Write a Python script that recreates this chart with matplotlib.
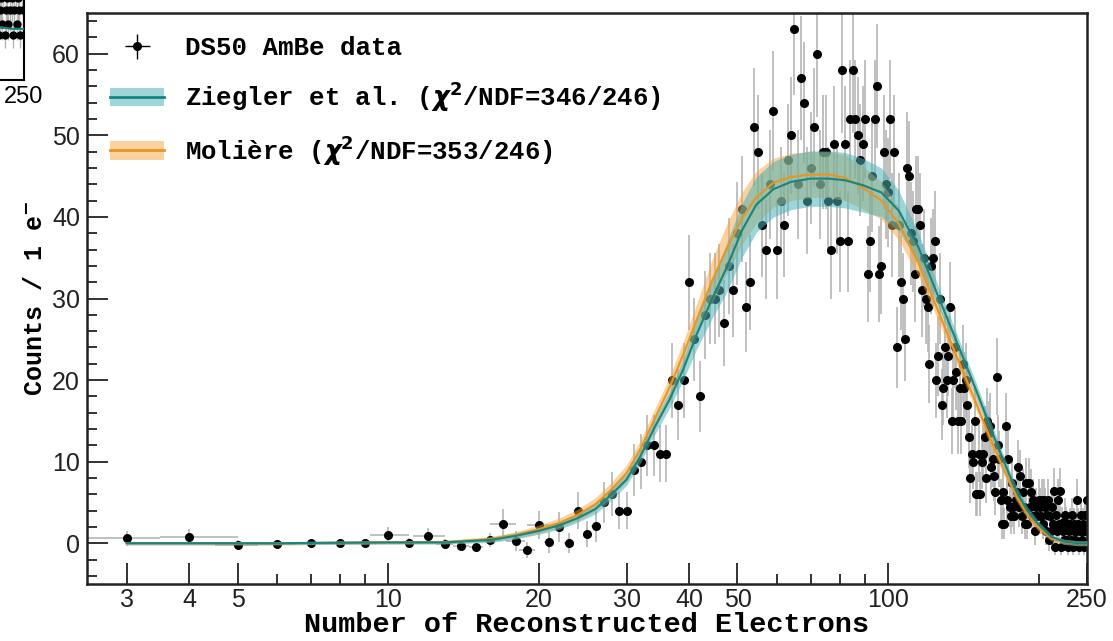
import numpy as np
import matplotlib.pyplot as plt
from matplotlib.lines import Line2D
from matplotlib.patches import Patch
from matplotlib.ticker import FixedLocator, NullFormatter, MultipleLocator

# DS50 AmBe data: one bin per reconstructed electron, 3 .. 250
n_electrons = np.arange(3, 251)
counts = [
    0.6, 0.8, -0.2, -0.1, 0.0, 0.0, 0.0, 1.0, 0.0, 0.9,
    -0.1, -0.4, -0.5, 0.4, 2.4, 0.3, -0.8, 2.2, 0.1, 2.0,
    0.0, 4.0, 1.1, 2.1, 5.0, 6.0, 4.0, 4.0, 9.0, 10.0,
    12.0, 12.0, 11.0, 11.0, 20.0, 17.0, 20.0, 32.0, 25.0, 18.0,
    28.0, 30.0, 30.0, 31.0, 27.0, 34.0, 31.0, 38.0, 41.0, 29.0,
    32.0, 51.0, 48.0, 39.0, 36.0, 44.0, 53.0, 36.0, 42.0, 39.0,
    47.0, 50.0, 63.0, 44.0, 57.0, 54.0, 42.0, 46.0, 51.0, 60.0,
    44.0, 48.0, 48.0, 42.0, 36.0, 49.0, 42.0, 37.0, 58.0, 49.0,
    37.0, 52.0, 58.0, 52.0, 50.0, 47.0, 49.0, 52.0, 33.0, 37.0,
    45.0, 52.0, 56.0, 33.0, 34.0, 48.0, 44.0, 43.0, 52.0, 39.0,
    48.0, 24.0, 39.0, 32.0, 30.0, 25.0, 46.0, 45.0, 38.0, 37.0,
    33.0, 41.0, 41.0, 39.0, 31.0, 35.0, 30.0, 29.0, 22.0, 34.0,
    35.0, 37.0, 20.0, 23.0, 30.0, 17.0, 19.0, 24.0, 20.0, 23.0,
    29.0, 15.0, 20.0, 24.0, 21.0, 15.0, 19.0, 15.0, 22.0, 19.0,
    20.0, 17.0, 13.0, 8.0, 11.0, 10.0, 15.0, 6.0, 6.0, 11.0,
    6.0, 10.0, 11.0, 13.0, 8.0, 15.0, 13.5, 14.4, 9.4, 10.3,
    8.3, 6.3, 20.4, 12.0, 10.3, 5.3, 2.4, 6.3, 2.4, 14.4,
    5.3, 10.3, 4.4, 3.3, 7.4, 4.4, 3.3, 5.3, 6.3, 9.4,
    4.4, 8.3, 3.3, 6.3, 4.4, 2.4, 7.4, 2.4, 7.4, 4.4,
    6.3, 3.3, 5.3, 3.3, 1.5, 4.4, 3.3, 5.3, 4.4, 3.3,
    5.3, 2.4, 5.3, 4.4, 1.5, 3.4, 5.3, 0.4, 3.3, 1.5,
    4.4, 2.4, 6.4, -0.5, 3.4, 1.5, 5.3, 2.4, 6.4, -0.5,
    2.5, 1.5, 0.4, 3.4, 2.5, 0.4, -0.5, 1.5, 2.4, 0.4,
    3.4, -0.5, 1.5, 2.4, 0.4, 1.5, 5.3, 2.4, -0.5, 1.5,
    3.4, 0.4, 2.4, 1.5, -0.5, 3.4, 1.5, 5.3,
]
counts_err = [
    0.9, 0.9, 0.6, 0.5, 0.5, 0.5, 0.5, 1.0, 0.6, 1.0,
    0.6, 0.5, 0.5, 0.9, 1.8, 1.2, 1.0, 1.7, 1.3, 1.8,
    1.2, 2.3, 1.6, 1.9, 2.5, 2.7, 2.3, 2.3, 3.2, 3.4,
    3.7, 3.7, 3.5, 3.5, 4.6, 4.3, 4.6, 5.8, 5.1, 4.4,
    5.4, 5.6, 5.6, 5.7, 5.3, 5.9, 5.7, 6.3, 6.5, 5.5,
    5.8, 7.2, 7.0, 6.4, 6.1, 6.7, 7.4, 6.1, 6.6, 6.4,
    6.9, 7.2, 8.0, 6.7, 7.6, 7.4, 6.6, 6.9, 7.2, 7.8,
    6.7, 7.0, 7.0, 6.6, 6.1, 7.1, 6.6, 6.2, 7.7, 7.1,
    6.2, 7.3, 7.7, 7.3, 7.2, 6.9, 7.1, 7.3, 5.9, 6.2,
    6.8, 7.3, 7.6, 5.9, 5.9, 7.0, 6.7, 6.7, 7.3, 6.4,
    7.0, 5.0, 6.4, 5.8, 5.6, 5.1, 6.9, 6.8, 6.3, 6.2,
    5.9, 6.5, 6.5, 6.4, 5.7, 6.0, 5.6, 5.5, 4.8, 5.9,
    6.0, 6.2, 4.6, 4.9, 5.6, 4.3, 4.5, 5.0, 4.6, 4.9,
    5.5, 4.0, 4.6, 5.0, 4.7, 4.0, 4.5, 4.0, 4.8, 4.5,
    4.6, 4.3, 3.8, 3.1, 3.5, 3.4, 4.0, 2.7, 2.7, 3.5,
    2.7, 3.4, 3.5, 3.8, 3.1, 4.0, 3.9, 4.0, 3.3, 3.4,
    3.1, 2.8, 4.7, 3.7, 3.4, 2.6, 1.9, 2.8, 1.9, 4.0,
    2.6, 3.4, 2.4, 2.2, 3.0, 2.4, 2.2, 2.6, 2.8, 3.3,
    2.4, 3.1, 2.2, 2.8, 2.4, 1.9, 3.0, 1.9, 3.0, 2.4,
    2.8, 2.2, 2.6, 2.2, 1.7, 2.4, 2.2, 2.6, 2.4, 2.2,
    2.6, 1.9, 2.6, 2.4, 1.7, 2.2, 2.6, 1.3, 2.2, 1.7,
    2.4, 1.9, 2.8, 1.0, 2.2, 1.7, 2.6, 1.9, 2.8, 1.0,
    2.0, 1.7, 1.3, 2.2, 2.0, 1.3, 1.0, 1.7, 1.9, 1.3,
    2.2, 1.0, 1.7, 1.9, 1.3, 1.7, 2.6, 1.9, 1.0, 1.7,
    2.2, 1.3, 1.9, 1.7, 1.0, 2.2, 1.7, 2.6,
]
# horizontal bin half-widths (wider at low N), then 0.5 per bin
xerr_low = [0.5, 0.5, 0.5, 0.5, 0.5, 0.5, 0.5, 0.8, 0.5, 0.8,
            0.5, 0.5, 0.5, 0.8, 1.0, 0.8, 0.7, 1.0] + [0.5] * 230
xerr_high = [0.5, 1.0, 0.5, 0.5, 0.5, 0.5, 0.5, 1.0, 0.5, 1.0,
             0.5, 0.5, 0.5, 0.8, 1.0, 0.8, 0.7, 1.0] + [0.5] * 230

# model predictions (central value and band half-width)
model_x = [3, 6, 10, 13, 16, 18, 20, 22, 24, 26, 28, 30, 32, 34, 36.5, 39,
           41.5, 44.5, 47.5, 51, 54.5, 59, 64, 70, 76, 82, 89, 97, 105, 115,
           125, 137, 150, 160, 170, 180, 190, 200, 212, 225, 240, 250]
ziegler = [0.0, 0.0, 0.1, 0.1, 0.4, 0.9, 1.5, 2.2, 3.1, 4.2, 6.0, 7.8, 10.7,
           14.0, 17.5, 21.4, 25.7, 30.0, 33.7, 38.3, 41.5, 43.4, 44.3, 44.7,
           44.7, 44.5, 43.9, 43.0, 40.8, 36.3, 30.8, 24.8, 18.8, 14.3, 10.2,
           6.6, 4.0, 2.3, 0.8, 0.2, 0.0, 0.0]
ziegler_unc = [0.2, 0.2, 0.2, 0.2, 0.3, 0.4, 0.4, 0.5, 0.5, 0.6, 0.7, 0.7,
               0.8, 0.9, 1.0, 1.3, 1.8, 2.4, 3.0, 3.3, 3.4, 3.4, 3.4, 3.4,
               3.4, 3.4, 3.3, 3.0, 2.5, 1.8, 1.3, 1.0, 0.9, 0.8, 0.7, 0.6,
               0.5, 0.4, 0.3, 0.3, 0.3, 0.3]
moliere = [0.0, 0.0, 0.1, 0.15, 0.5, 1.0, 1.7, 2.5, 3.5, 4.8, 6.6, 8.6, 11.6,
           15.0, 19.0, 23.2, 27.5, 32.2, 36.0, 39.8, 42.4, 44.2, 44.9, 45.2,
           45.2, 44.8, 43.6, 42.0, 39.2, 34.4, 29.0, 23.0, 17.2, 12.9, 9.2,
           5.9, 3.5, 1.9, 0.6, 0.15, 0.0, 0.0]
moliere_unc = [0.2, 0.2, 0.2, 0.2, 0.3, 0.4, 0.5, 0.6, 0.7, 0.8, 0.9, 1.0,
               1.1, 1.2, 1.3, 1.6, 2.0, 2.6, 3.0, 3.2, 3.2, 3.0, 2.9, 2.8,
               2.8, 2.8, 2.6, 2.3, 2.0, 1.6, 1.2, 1.0, 0.9, 0.8, 0.7, 0.6,
               0.5, 0.4, 0.3, 0.3, 0.3, 0.3]

x_major = [3, 4, 5, 10, 20, 30, 40, 50, 100, 250]
x_minor = [6, 7, 8, 9, 60, 70, 80, 90, 200]

TEAL_LINE = '#17857d'
TEAL_BAND = '#4db3b8'
ORANGE_LINE = '#e8961e'
ORANGE_BAND = '#f7a440'
MONO = 'Liberation Mono'
SANS = 'Liberation Sans'

y = np.array(counts)
yerr = np.array(counts_err)
zx = np.array(model_x)
zy, zu = np.array(ziegler), np.array(ziegler_unc)
my, mu = np.array(moliere), np.array(moliere_unc)

fig = plt.figure(figsize=(11.13, 6.41), dpi=100)
ax = fig.add_axes([0.0782, 0.0889, 0.8984, 0.8908])

ax.errorbar(n_electrons, y, yerr=yerr, xerr=[xerr_low, xerr_high], fmt='none',
            ecolor='#b5b5b5', elinewidth=1.2, zorder=1)
ax.plot(n_electrons, y, 'o', color='black', ms=5.5, zorder=2)

ax.fill_between(zx, my - mu, my + mu, color=ORANGE_BAND, alpha=0.5, lw=0, zorder=3)
ax.fill_between(zx, zy - zu, zy + zu, color=TEAL_BAND, alpha=0.55, lw=0, zorder=3)
ax.plot(zx, my, color=ORANGE_LINE, lw=1.5, zorder=4)
ax.plot(zx, zy, color=TEAL_LINE, lw=1.5, zorder=4)

ax.set_xscale('log')
ax.set_xlim(2.5, 250)
ax.set_ylim(-5, 65)
ax.xaxis.set_major_locator(FixedLocator(x_major))
ax.xaxis.set_major_formatter(plt.FixedFormatter([str(v) for v in x_major]))
ax.xaxis.set_minor_locator(FixedLocator(x_minor))
ax.xaxis.set_minor_formatter(NullFormatter())
ax.yaxis.set_major_locator(MultipleLocator(10))
ax.yaxis.set_minor_locator(MultipleLocator(2))
ax.tick_params(which='both', direction='in', top=False, right=False,
               width=1.3, colors='#222222')
ax.tick_params(which='major', length=15, labelsize=18)
ax.tick_params(axis='x', which='major', pad=3)
ax.tick_params(axis='y', which='major', pad=5)
ax.tick_params(which='minor', length=7)
for lab in ax.get_xticklabels() + ax.get_yticklabels():
    lab.set_family(SANS)
for sp in ax.spines.values():
    sp.set_linewidth(1.8)
    sp.set_color('#222222')

ax.set_xlabel('Number of Reconstructed Electrons', family=MONO,
              fontweight='bold', fontsize=20.5, labelpad=0)
ax.set_ylabel('Counts / 1 e$^{\\mathbf{-}}$', family=MONO,
              fontweight='bold', fontsize=18, labelpad=4)

data_handle = (Line2D([], [], ls='none', marker='+', ms=18, mew=1.0, color='black'),
               Line2D([], [], ls='none', marker='o', ms=5.5, color='black'))
zieg_handle = (Patch(facecolor=TEAL_BAND, alpha=0.55, lw=0),
               Line2D([], [], color=TEAL_LINE, lw=2))
mol_handle = (Patch(facecolor=ORANGE_BAND, alpha=0.5, lw=0),
              Line2D([], [], color=ORANGE_LINE, lw=2))
leg = ax.legend([data_handle, zieg_handle, mol_handle],
                ['DS50 AmBe data',
                 'Ziegler et al. ($\\boldsymbol{\\chi}^\\mathbf{2}$/NDF=346/246)',
                 'Moli\u00e8re ($\\boldsymbol{\\chi}^\\mathbf{2}$/NDF=353/246)'],
                loc='upper left', frameon=False,
                prop={'family': MONO, 'weight': 'bold', 'size': 18.5},
                handlelength=2.1, handleheight=0.75, handletextpad=0.8,
                labelspacing=0.75, borderaxespad=0.45, borderpad=0.45)

# cropped corner of a neighbouring panel
inset = fig.add_axes([-0.25, 0.875, 0.2716, 0.2])
inset.errorbar(n_electrons, y, yerr=yerr, fmt='none', ecolor='#b5b5b5',
               elinewidth=1.0, zorder=1)
inset.plot(n_electrons, y, 'o', color='black', ms=5, zorder=2)
inset.plot(zx, zy, color=TEAL_LINE, lw=1.5, zorder=3)
inset.set_xlim(0, 250)
inset.set_ylim(-4, 6)
inset.set_xticks([250])
inset.set_xticklabels(['250'], family=SANS, fontsize=17)
inset.set_yticks([])
inset.tick_params(direction='in', length=0, pad=4)
for sp in inset.spines.values():
    sp.set_linewidth(1.5)

fig.savefig('out.png', dpi=100)
